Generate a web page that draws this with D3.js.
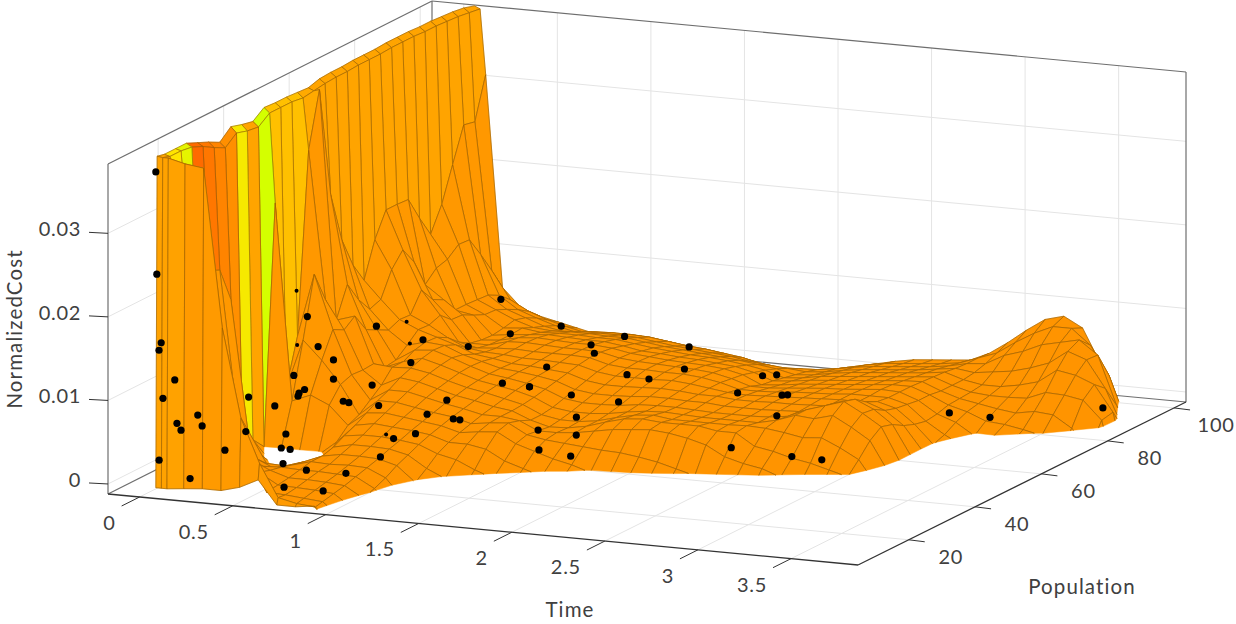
<!DOCTYPE html>
<html><head><meta charset="utf-8">
<script src="https://cdn.jsdelivr.net/npm/d3@7"></script>
<style>html,body{margin:0;padding:0;background:#fff}text{font-family:Lato,"Open Sans",sans-serif;fill:#404040}</style>
</head><body><svg id="c" width="1236" height="624"></svg>
<script>
const timeTicks=[0,0.5,1,1.5,2,2.5,3,3.5];
const popTicks=[20,40,60,80,100];
const costTicks=[0,0.01,0.02,0.03];
const times=[0.05,0.08,0.11,0.2,0.3,0.4,0.5,0.6,0.7,0.8,0.9,1,1.1,1.2,1.3,1.4,1.5,1.6,1.7,1.8,1.9,2,2.1,2.2,2.3,2.4,2.5,2.6,2.7,2.8,2.9,3,3.1,3.2,3.3,3.4,3.5,3.6,3.7,3.78];
const pops=[6.8,7.2,9.4,12.8,16.1,19.5,22.9,26.3,29.7,33,36.4,39.8,43.2,46.6,50,53.3,56.7,60.1,63.5,66.9,70.2,73.6,77,80.4,83.8,87.2,90.6,93.9,97.3,100.7,104];
// cost x 10^4, one list per time, one entry per population
const costE4=[
[-4,392,390,390,390,384,378,371,383,379,376,386,385,385,384,383,387,388,388,389,389,389,390,390,390,389,389,388,387,385,381],
[-4,391,388,388,386,380,372,365,376,372,370,380,380,380,378,380,382,383,383,384,384,384,385,385,385,384,384,383,382,380,378],
[-4,391,360,300,240,232,226,184,30,3,-12,273,45,100,316,382,250,189,152,127,169,198,198,197,168,142,171,212,253,250,300],
[-2,386,200,150,120,90,60,30,-5,-20,-15,38,104,176,139,108,144,119,101,106,135,152,131,97,110,114,125,124,100,74,47],
[0,383,100,70,40,21,5,-8,-20,-25,-14,47,82,112,105,115,92,85,78,84,83,106,88,81,62,62,61,60,53,41,25],
[0,194,56,35,18,4,-5,-9,-22,-22,-16,37,55,60,59,60,49,51,62,74,73,78,66,65,58,52,51,45,38,29,17],
[6,88,40,12,8,5,1,-2,-14,-12,2,15,21,32,43,58,58,65,68,67,60,48,40,37,36,38,41,37,30,21,12],
[17,36,-3,-1,1,4,7,7,11,18,24,32,40,46,54,59,64,67,66,60,50,43,40,39,39,40,34,29,23,15,7],
[-11,-3,-4,-2,1,4,6,11,16,21,28,34,40,46,51,55,58,60,57,51,47,45,46,44,41,37,32,25,18,10,2],
[-11,-8,-6,-3,0,3,7,11,16,21,26,31,36,41,45,48,51,52,51,48,46,46,47,46,43,38,33,27,20,12,3],
[-8,-10,-8,-5,-2,2,6,10,15,19,24,28,32,36,39,42,44,45,45,44,44,45,46,45,42,38,33,27,21,12,3],
[-35,-30,-25,-20,-15,-10,-4,4,10,16,21,25,29,32,35,38,40,42,43,43,44,45,45,44,41,37,32,27,21,12,3],
[-60,-60,-50,-45,-40,-35,-28,-14,-4,7,14,19,23,27,30,33,36,38,40,41,43,45,45,44,41,37,32,26,20,10,0],
[-70,-70,-60,-55,-50,-45,-36,-26,-14,2,14,22,26,27,27,28,30,33,36,39,42,44,44,42,38,34,29,23,17,7,-4],
[-80,-80,-70,-65,-60,-55,-46,-34,-22,-8,10,24,28,24,18,18,20,24,28,32,36,38,39,38,34,31,26,20,14,4,-8],
[-85,-85,-80,-75,-70,-60,-52,-42,-30,-16,-2,12,16,14,12,14,17,21,25,29,33,36,37,36,33,29,24,18,12,2,-12],
[-90,-90,-85,-80,-75,-65,-58,-48,-36,-22,-9,5,12,14,13,14,17,21,25,29,33,36,36,34,31,27,22,16,9,-2,-16],
[-90,-90,-85,-80,-75,-70,-62,-52,-40,-28,-16,-2,10,16,17,17,19,22,26,30,33,35,35,33,30,26,20,14,6,-5,-20],
[-90,-90,-85,-80,-75,-70,-65,-55,-45,-33,-20,-7,8,20,24,23,23,25,28,31,34,35,34,32,28,24,18,10,0,-9,-22],
[-90,-90,-85,-80,-75,-70,-65,-60,-50,-38,-25,-14,6,24,30,28,26,26,28,30,32,33,32,30,26,21,15,8,-2,-12,-24],
[-90,-90,-85,-80,-75,-70,-65,-60,-52,-42,-30,-16,5,26,32,30,27,26,27,28,29,29,27,25,21,17,12,6,-1,-10,-20],
[-90,-90,-85,-80,-75,-70,-65,-60,-54,-44,-32,-18,2,28,30,27,26,25,27,28,26,23,20,15,13,10,7,4,0,-7,-14],
[-90,-90,-85,-80,-75,-70,-65,-60,-55,-46,-35,-22,-2,26,30,27,25,24,25,26,25,23,20,17,15,12,9,6,3,-2,-8],
[-90,-90,-85,-80,-75,-70,-65,-60,-56,-48,-38,-25,-8,22,30,27,25,24,25,26,26,24,22,20,18,16,13,10,7,3,-2],
[-90,-90,-85,-80,-75,-70,-65,-60,-56,-50,-40,-28,-14,16,26,27,25,24,25,27,27,26,24,22,20,18,16,13,10,7,3],
[-90,-90,-85,-80,-75,-70,-65,-60,-56,-52,-42,-30,-18,4,26,28,25,25,26,27,28,27,26,24,22,20,18,15,12,9,7],
[-90,-90,-85,-80,-75,-70,-65,-60,-56,-54,-44,-32,-22,-2,12,27,30,28,27,28,29,28,27,26,24,22,20,17,14,11,9],
[-90,-90,-85,-80,-75,-70,-65,-60,-56,-56,-46,-36,-28,-6,8,24,38,38,33,29,30,30,29,28,26,24,22,19,16,13,11],
[-90,-90,-85,-80,-75,-70,-65,-60,-56,-58,-48,-38,-30,-14,2,20,36,45,42,34,30,30,31,30,28,26,24,22,19,16,13],
[-90,-90,-85,-80,-75,-70,-65,-60,-56,-60,-50,-42,-34,-22,-2,22,42,52,48,38,32,30,30,30,29,28,27,25,24,24,23],
[-90,-90,-85,-80,-75,-70,-65,-60,-56,-62,-54,-46,-40,-30,-8,12,30,40,38,30,26,24,22,22,20,20,20,22,26,32,38],
[-90,-90,-85,-80,-75,-70,-65,-60,-56,-64,-56,-50,-44,-36,-14,0,16,26,22,14,9,6,8,12,13,14,16,25,38,47,55],
[-90,-90,-85,-80,-75,-70,-65,-60,-56,-66,-60,-55,-50,-45,-38,-30,-20,-14,-14,-14,-13,-8,0,6,9,12,16,28,45,60,70],
[-90,-90,-85,-80,-75,-70,-65,-60,-56,-70,-66,-60,-56,-52,-48,-44,-40,-36,-32,-28,-25,-20,-14,-3,5,12,20,34,55,70,76],
[-90,-90,-85,-80,-75,-70,-65,-60,-56,-72,-70,-66,-62,-58,-54,-50,-46,-42,-38,-32,-28,-24,-13,-5,2,13,26,42,60,70,64],
[-90,-90,-85,-80,-75,-70,-65,-60,-56,-74,-72,-70,-66,-62,-58,-54,-50,-46,-42,-36,-30,-26,-18,-9,6,22,42,58,65,52,22],
[-90,-90,-85,-80,-75,-70,-65,-60,-56,-76,-74,-72,-70,-66,-62,-58,-54,-50,-46,-42,-36,-32,-26,-14,4,21,38,50,49,18,-25],
[-90,-90,-85,-80,-75,-70,-65,-60,-56,-78,-76,-74,-72,-70,-66,-62,-58,-54,-50,-46,-42,-38,-34,-28,-10,17,29,18,-9,-40,-70],
[-90,-90,-85,-80,-75,-70,-65,-60,-56,-80,-78,-76,-74,-72,-70,-66,-62,-58,-54,-50,-48,-46,-44,-40,-30,-5,-2,-30,-60,-70,-80],
[-80,-80,-80,-80,-80,-80,-80,-80,-80,-80,-80,-80,-80,-80,-80,-80,-80,-80,-80,-80,-80,-80,-80,-80,-80,-80,-80,-80,-80,-80,-80]
];
// colour value of the steep faces next to the first times, one per population band
const bandHeat=[2,4,4.6,0,0.4,0.8,1.2,4.2,2,5,3,3,3,2.2,2,2,2,2,2,2,2,2,2,2,2,2,2,2,2,2];
const pointTime=[.05,.05,.07,.06,.15,.09,.27,.29,.16,.18,.4,.05,.22,.3,.4,.5,.5,.5,.55,.7,.9,.85,.7,.5,.3,.4,.5,.5,.4,.5,.5,.5,.6,.6,.6,.7,.6,.7,.7,.8,.9,.9,1,1,.9,1,.9,.5,.8,.9,1,1,1,1,1.1,1.4,1.5,1.25,1.6,.9,1.1,1.4,1.6,2.1,2.2,2.2,1.9,2,1.6,1.4,1.7,2.4,1.5,1.7,2.4,2.7,2.85,3,3.2,3.6];
const pointPop=[6.8,7.1,7.3,7.2,6.9,6.7,7.1,7.3,7,7.1,8,7.8,7.6,20.9,23.2,20.9,19.5,22.2,17.2,15.8,16.5,12.4,9,8.7,38.8,36.4,35.4,35.4,29,26.6,24.9,24.6,32.7,34.4,41.5,37.8,42.8,51.3,47.6,59.4,47.2,41.2,43.5,45.5,31,32,27,86.4,72.2,82,85.4,86.4,95.6,71.9,61,73.6,74.6,101,79.7,64.1,61,56.7,59.7,67.5,75.3,77,86.4,85,46.9,46.6,41.2,62.4,41.2,39.5,48.6,50,50.6,80.7,81.7,93.2];
const pointCost=[.0374,.0251,.0169,.016,.0127,.0104,.0087,.0074,.0075,.0067,.0046,.0027,.0009,.0082,.0069,.0042,.0028,.0021,.0015,.0013,.0012,-.0002,.0006,.0069,.0143,.0114,.0102,.0079,.0094,.0084,.0083,.008,.006,.0055,.0062,.0047,.013,.0099,.0079,.0077,.0039,.0034,.0026,.0021,.0025,.0031,.0011,.0074,.0067,.0059,.0032,.002,.0022,.0032,.0032,.0028,.0023,.0004,.0027,.0026,.0032,.0037,.0027,.0033,.0017,.0014,.0012,.0018,.0034,.0015,.0026,.0022,.0004,.0004,.0011,.0004,.0002,.0002,-.0001,-.0004];
// points that show only as a sliver through the surface
const sliverTime=[.2,.3,.6,.6,.8];
const sliverPop=[41.2,35.7,52,53,34.4];
const sliverCost=[.0167,.0115,.0117,.0089,.0021];

const tScale=d3.scaleLinear().domain([-0.17,3.86]).range([0,1]);
const pScale=d3.scaleLinear().domain([4.7,103.6]).range([0,1]);
const zScale=d3.scaleLinear().domain([-0.0012,0.0383]).range([0,330]);
const [zMin,zMax]=zScale.domain(), [tMin,tMax]=tScale.domain(), [pMin,pMax]=pScale.domain();
const heat=d3.scaleLinear().domain([0,1,2,3,4,5]).range(["#ff6a00","#ff8a00","#ffa400","#ffc000","#ffe400","#d4ff00"]);

function proj(t,p,z){
  const a=tScale(t),b=pScale(p);
  const x=(1-a)*(1-b)*108+a*(1-b)*858+a*b*1186+(1-a)*b*432;
  const y=(1-a)*(1-b)*494+a*(1-b)*565+a*b*402+(1-a)*b*331;
  return [x,y-zScale(z)];
}
const svg=d3.select("#c");
const line=d3.line();
const seg=(g,a,b,col,w)=>g.append("path").attr("d",line([proj(...a),proj(...b)])).attr("fill","none").attr("stroke",col).attr("stroke-width",w);

const grid=svg.append("g");
const gc="#e4e4e4";
timeTicks.forEach(t=>{seg(grid,[t,pMin,zMin],[t,pMax,zMin],gc,1);seg(grid,[t,pMax,zMin],[t,pMax,zMax],gc,1);});
popTicks.forEach(p=>{seg(grid,[tMin,p,zMin],[tMax,p,zMin],gc,1);seg(grid,[tMin,p,zMin],[tMin,p,zMax],gc,1);});
costTicks.forEach(z=>{seg(grid,[tMin,pMin,z],[tMin,pMax,z],gc,1);seg(grid,[tMin,pMax,z],[tMax,pMax,z],gc,1);});

const bc="#6e6e6e", ac="#333";
seg(grid,[tMin,pMax,zMin],[tMin,pMin,zMin],bc,1.2);
seg(grid,[tMin,pMax,zMin],[tMax,pMax,zMin],bc,1.2);
seg(grid,[tMin,pMax,zMin],[tMin,pMax,zMax],bc,1.2);
seg(grid,[tMin,pMin,zMax],[tMin,pMax,zMax],bc,1.2);
seg(grid,[tMin,pMax,zMax],[tMax,pMax,zMax],bc,1.2);
seg(grid,[tMax,pMax,zMin],[tMax,pMax,zMax],bc,1.2);
seg(grid,[tMin,pMin,zMin],[tMin,pMin,zMax],bc,1.2);
seg(grid,[tMin,pMin,zMin],[tMax,pMin,zMin],ac,1.3);
seg(grid,[tMax,pMin,zMin],[tMax,pMax,zMin],ac,1.3);

// ticks & labels
const lab=svg.append("g").attr("font-size",20).attr("letter-spacing",0.7);
timeTicks.forEach(t=>{const [x,y]=proj(t,pMin,zMin);
  lab.append("path").attr("d",line([[x,y],[x-18,y+9]])).attr("stroke",ac).attr("fill","none");
  lab.append("text").attr("x",x-24).attr("y",y+28).attr("text-anchor","end").attr("dominant-baseline","middle").text(t);});
popTicks.forEach(p=>{const [x,y]=proj(tMax,p,zMin);
  lab.append("path").attr("d",line([[x,y],[x+16,y+2]])).attr("stroke",ac).attr("fill","none");
  lab.append("text").attr("x",x+42).attr("y",y+19).attr("text-anchor","middle").attr("dominant-baseline","middle").text(p);});
costTicks.forEach(z=>{const [x,y]=proj(tMin,pMin,z);
  lab.append("path").attr("d",line([[x,y],[x-19,y-1]])).attr("stroke",ac).attr("fill","none");
  lab.append("text").attr("x",x-27).attr("y",y-2).attr("text-anchor","end").attr("dominant-baseline","middle").text(z);});
const axisLab=svg.append("g").attr("font-size",20.5).attr("letter-spacing",1.1);
axisLab.append("text").attr("x",570).attr("y",612).attr("text-anchor","middle").attr("dominant-baseline","middle").text("Time");
axisLab.append("text").attr("x",1082).attr("y",589).attr("text-anchor","middle").attr("dominant-baseline","middle").text("Population");
axisLab.append("text").attr("transform","translate(17,329) rotate(-90)").attr("text-anchor","middle").attr("dominant-baseline","middle").text("NormalizedCost");

// surface quads
const quads=[];
for(let i=0;i<times.length-1;i++)for(let r=0;r<pops.length-1;r++){
  const v=[[i,r],[i+1,r],[i+1,r+1],[i,r+1]].map(([a,b])=>({t:times[a],p:pops[b],z:costE4[a][b]*1e-4}));
  quads.push({i,r,v,depth:d3.mean(v,d=>17.6*d.t-1.648*d.p)});
}
quads.sort((a,b)=>d3.ascending(a.depth,b.depth));
const cut=(a,b)=>{const k=(zMin-a.z)/(b.z-a.z);return {t:a.t+k*(b.t-a.t),p:a.p+k*(b.p-a.p),z:zMin};};
const pt=d=>proj(d.t,d.p,d.z);
function faceColor(q){
  if(q.r===0) return q.i<3?"#ffa200":"#ff9a00";
  if(q.i<=1) return heat(bandHeat[q.r-1]);
  if(q.i<=3) return "#ff9800";
  return "#ff9400";
}
const surf=svg.append("g");
quads.forEach(q=>{
  const poly=[],edges=[];
  q.v.forEach((a,k)=>{const b=q.v[(k+1)%4],ai=a.z>=zMin,bi=b.z>=zMin;
    if(ai)poly.push(a);
    if(ai!==bi)poly.push(cut(a,b));
    if(ai&&bi)edges.push([a,b]);else if(ai)edges.push([a,cut(a,b)]);else if(bi)edges.push([cut(a,b),b]);
  });
  if(poly.length<3)return;
  const col=faceColor(q);
  surf.append("path").attr("d",line(poly.map(pt))+"Z").attr("fill",col).attr("stroke",col).attr("stroke-width",0.5);
  surf.append("path").attr("d",edges.map(([a,b])=>line([pt(a),pt(b)])).join("")).attr("fill","none").attr("stroke","#8a5500").attr("stroke-opacity",0.72).attr("stroke-width",0.8);
});

// scatter points
const dots=svg.append("g");
dots.selectAll("circle.m").data(pointTime).join("circle").attr("class","m")
 .attr("cx",(d,k)=>proj(d,pointPop[k],pointCost[k])[0]).attr("cy",(d,k)=>proj(d,pointPop[k],pointCost[k])[1]).attr("r",3.6).attr("fill","#000");
dots.selectAll("circle.s").data(sliverTime).join("circle").attr("class","s")
 .attr("cx",(d,k)=>proj(d,sliverPop[k],sliverCost[k])[0]).attr("cy",(d,k)=>proj(d,sliverPop[k],sliverCost[k])[1]).attr("r",2).attr("fill","#000");
</script></body></html>
